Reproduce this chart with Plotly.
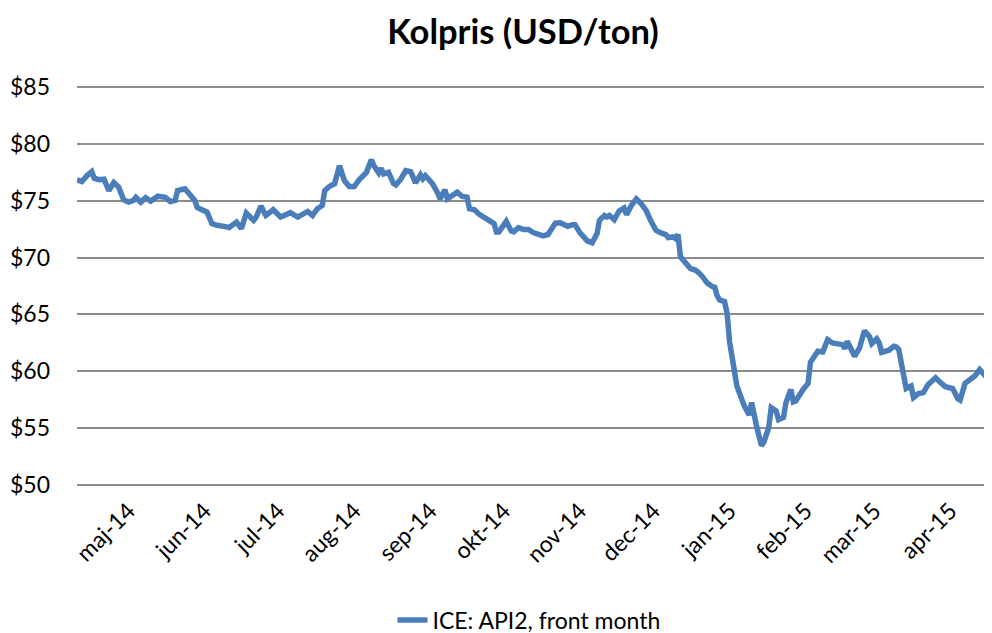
import plotly.graph_objects as go

title_text = "Kolpris (USD/ton)"
series_name = "ICE: API2, front month"

dates = [
    "2014-04-10", "2014-04-12", "2014-04-14", "2014-04-16", "2014-04-17", "2014-04-19",
    "2014-04-21", "2014-04-23", "2014-04-25", "2014-04-27", "2014-04-29", "2014-05-01",
    "2014-05-03", "2014-05-04", "2014-05-06", "2014-05-08", "2014-05-10", "2014-05-13",
    "2014-05-16", "2014-05-18", "2014-05-20", "2014-05-21", "2014-05-24", "2014-05-26",
    "2014-05-28", "2014-05-29", "2014-05-31", "2014-06-02", "2014-06-04", "2014-06-06",
    "2014-06-09", "2014-06-11",
    "2014-06-14", "2014-06-16", "2014-06-18", "2014-06-21", "2014-06-22", "2014-06-24",
    "2014-06-26", "2014-06-29", "2014-07-02", "2014-07-06", "2014-07-09", "2014-07-13",
    "2014-07-15", "2014-07-17", "2014-07-19", "2014-07-20", "2014-07-22", "2014-07-24",
    "2014-07-26", "2014-07-28", "2014-07-30", "2014-08-01", "2014-08-03", "2014-08-05",
    "2014-08-06", "2014-08-08", "2014-08-09", "2014-08-11", "2014-08-12", "2014-08-13",
    "2014-08-15", "2014-08-17", "2014-08-18", "2014-08-20", "2014-08-22", "2014-08-24",
    "2014-08-26", "2014-08-28", "2014-08-29", "2014-08-30", "2014-09-02", "2014-09-04",
    "2014-09-05", "2014-09-07", "2014-09-08", "2014-09-10", "2014-09-12", "2014-09-14",
    "2014-09-16", "2014-09-17", "2014-09-19", "2014-09-21", "2014-09-23", "2014-09-25",
    "2014-09-27", "2014-09-28", "2014-09-29", "2014-10-02", "2014-10-04", "2014-10-05",
    "2014-10-07", "2014-10-09", "2014-10-11", "2014-10-13", "2014-10-15",
    "2014-10-17", "2014-10-19", "2014-10-20", "2014-10-22", "2014-10-24", "2014-10-27",
    "2014-10-29", "2014-10-30", "2014-11-01", "2014-11-03", "2014-11-04", "2014-11-06",
    "2014-11-08", "2014-11-09", "2014-11-11", "2014-11-12", "2014-11-13", "2014-11-15",
    "2014-11-16", "2014-11-17", "2014-11-19", "2014-11-20", "2014-11-22", "2014-11-24",
    "2014-11-26", "2014-11-28", "2014-11-30", "2014-12-02", "2014-12-04", "2014-12-06",
    "2014-12-07", "2014-12-09", "2014-12-10", "2014-12-11", "2014-12-12", "2014-12-14",
    "2014-12-16", "2014-12-18",
    "2014-12-19", "2014-12-21", "2014-12-23", "2014-12-25", "2014-12-26", "2014-12-27",
    "2014-12-28", "2014-12-30", "2014-12-31", "2015-01-01", "2015-01-02", "2015-01-04",
    "2015-01-05", "2015-01-07", "2015-01-09", "2015-01-10", "2015-01-12", "2015-01-14",
    "2015-01-15", "2015-01-17", "2015-01-18", "2015-01-20", "2015-01-21", "2015-01-23",
    "2015-01-24", "2015-01-26", "2015-01-27", "2015-01-28", "2015-01-31", "2015-02-02",
    "2015-02-03", "2015-02-05", "2015-02-06", "2015-02-08", "2015-02-10", "2015-02-12",
    "2015-02-14", "2015-02-16", "2015-02-17", "2015-02-18",
    "2015-02-20", "2015-02-21", "2015-02-23", "2015-02-25", "2015-02-27", "2015-02-28",
    "2015-03-02", "2015-03-03", "2015-03-04", "2015-03-07", "2015-03-09", "2015-03-10",
    "2015-03-11", "2015-03-13", "2015-03-14", "2015-03-16", "2015-03-17", "2015-03-19",
    "2015-03-21", "2015-03-23", "2015-03-26", "2015-03-28", "2015-03-30", "2015-04-02",
    "2015-04-04", "2015-04-05", "2015-04-07", "2015-04-10", "2015-04-11", "2015-04-13",
    "2015-04-15", "2015-04-16", "2015-04-17", "2015-04-18",
]

prices = [
    76.84, 76.70, 77.20, 77.56, 76.98, 76.86,
    76.90, 75.90, 76.60, 76.20, 75.09, 74.88,
    75.03, 75.30, 74.88, 75.26, 74.97, 75.40,
    75.30, 74.94, 75.03, 75.90, 76.05, 75.46,
    75.03, 74.40, 74.24, 74.00, 72.99, 72.84,
    72.75, 72.64,
    73.13, 72.55, 73.92, 73.28, 73.57, 74.53,
    73.71, 74.21, 73.57, 73.95, 73.57, 74.06,
    73.71, 74.30, 74.59, 75.90, 76.28, 76.49,
    78.09, 76.78, 76.25, 76.25, 76.84, 77.20,
    77.50, 78.60, 78.09, 77.45, 77.86, 77.36,
    77.50, 76.54, 76.40, 76.90, 77.65, 77.56,
    76.58, 77.28, 76.93, 77.20, 76.48, 75.70,
    75.17, 75.97, 75.17, 75.46, 75.75, 75.38,
    75.32, 74.30, 74.21, 73.80, 73.57, 73.22,
    72.99, 72.26, 72.26, 73.19, 72.35, 72.26,
    72.64, 72.47, 72.47, 72.20, 72.05,
    71.91, 72.03, 72.40, 73.04, 73.07, 72.75,
    72.90, 72.90, 72.20, 71.82, 71.47, 71.30,
    72.12, 73.28, 73.71, 73.57, 73.71, 73.34,
    73.86, 74.10, 74.36, 73.78, 74.59, 75.17,
    74.74, 74.15, 73.19, 72.40, 72.17, 72.03,
    71.76, 71.82, 71.67, 72.03, 70.07, 69.63,
    69.05, 68.90,
    68.76, 68.32, 67.74, 67.45, 67.39, 66.63,
    66.28, 66.13, 65.12, 62.63, 61.03, 58.70,
    58.12, 56.95, 56.16, 57.24, 55.20, 53.45,
    53.75, 55.06, 56.80, 56.51, 55.73, 55.93,
    57.24, 58.40, 57.30, 57.38, 58.40, 58.93,
    60.79, 61.32, 61.76, 61.70, 62.78, 62.49,
    62.43, 62.34, 61.99, 62.63,
    61.76, 61.32, 62.05, 63.56, 63.07, 62.43,
    62.84, 62.49, 61.67, 61.85, 62.20, 62.14,
    61.90, 59.13, 58.49, 58.70, 57.68, 58.03,
    58.12, 58.84, 59.43, 59.00, 58.64, 58.47,
    57.60, 57.47, 58.93, 59.43, 59.58, 60.15,
    59.72, 59.43, 58.70, 58.40,
]

month_ticks = [
    "2014-05-01", "2014-06-01", "2014-07-01", "2014-08-01", "2014-09-01", "2014-10-01",
    "2014-11-01", "2014-12-01", "2015-01-01", "2015-02-01", "2015-03-01", "2015-04-01",
]
month_labels = [
    "maj-14", "jun-14", "jul-14", "aug-14", "sep-14", "okt-14",
    "nov-14", "dec-14", "jan-15", "feb-15", "mar-15", "apr-15",
]
y_ticks = [50, 55, 60, 65, 70, 75, 80, 85]
y_labels = ["$50", "$55", "$60", "$65", "$70", "$75", "$80", "$85"]

FONT = "Lato, 'Open Sans', sans-serif"

# The page body has an 8px margin, so the figure is sized to fit inside the window
W, H = 984, 625

fig = go.Figure()
fig.add_trace(go.Scatter(
    x=dates, y=prices, mode="lines", name=series_name,
    line=dict(color="#4A7EBB", width=5.5),
    showlegend=True,
))

fig.update_layout(
    width=W, height=H,
    paper_bgcolor="white", plot_bgcolor="white",
    margin=dict(l=69, r=0, t=78, b=147, autoexpand=False),
    font=dict(family=FONT, size=22, color="black"),
    title=dict(text="<b>" + title_text + "</b>", x=515 / W, xanchor="center",
               y=1 - 24 / H, yanchor="middle",
               font=dict(family=FONT, size=34.5, color="black")),
    xaxis=dict(
        type="date", range=["2014-04-10", "2015-04-18"],
        tickvals=month_ticks, ticktext=month_labels, tickangle=-45,
        showgrid=False, zeroline=False, showline=False, ticks="",
        ticklabelstandoff=6, ticklabelshift=0,
        tickfont=dict(family=FONT, size=23, color="black"),
    ),
    yaxis=dict(
        range=[49.9, 85.1], tickvals=y_ticks, ticktext=y_labels,
        showgrid=True, gridcolor="#8C8C8C", gridwidth=2,
        zeroline=False, showline=False, ticks="",
        ticklabelstandoff=26,
        tickfont=dict(family=FONT, size=23, color="black"),
    ),
    legend=dict(orientation="h", x=(521 - 69) / 915, xanchor="center", y=-0.335, yanchor="middle",
                font=dict(family=FONT, size=23, color="black"),
                bgcolor="rgba(0,0,0,0)"),
)

fig.write_html("out.html")
